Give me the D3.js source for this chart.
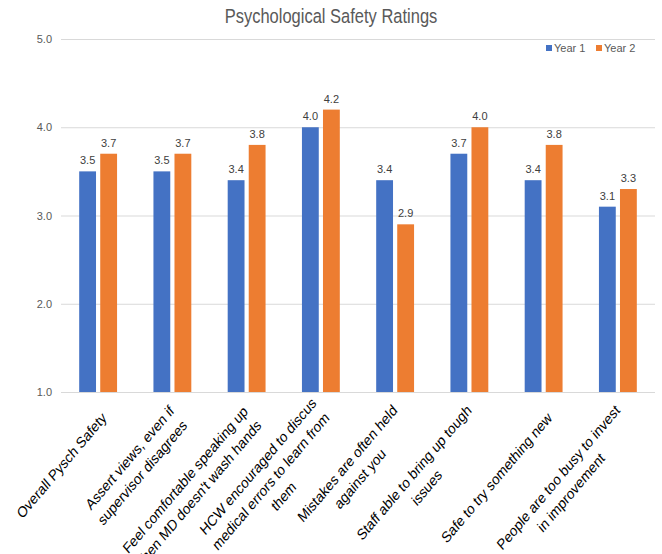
<!DOCTYPE html>
<html>
<head>
<meta charset="utf-8">
<script src="https://cdn.jsdelivr.net/npm/d3@7"></script>
<style>
  body { margin: 0; background: #fff; }
  svg { font-family: "Liberation Sans", Arial, sans-serif; }
</style>
</head>
<body>
<svg id="chart" width="662" height="554"></svg>
<script>
// chart data
var categories = [
  ["Overall Pysch Safety"],
  ["Assert views, even if", "supervisor disagrees"],
  ["Feel comfortable speaking up", "when MD doesn't wash hands"],
  ["HCW encouraged to discus", "medical errors to learn from", "them"],
  ["Mistakes are often held", "against you"],
  ["Staff able to bring up tough", "issues"],
  ["Safe to try something new"],
  ["People are too busy to invest", "in improvement"]
];
var seriesNames = ["Year 1", "Year 2"];
var year1 = [3.5, 3.5, 3.4, 4.0, 3.4, 3.7, 3.4, 3.1];
var year2 = [3.7, 3.7, 3.8, 4.2, 2.9, 4.0, 3.8, 3.3];
var yTicks = [1.0, 2.0, 3.0, 4.0, 5.0];
var colors = ["#4472C4", "#ED7D31"];

var svg = d3.select("#chart");
var plotLeft = 61, plotRight = 655, plotTop = 39, plotBottom = 392;
var stretch = 1.18; // the original picture is a bit taller than wide

var keys = categories.map(function(d, i) { return i; });
var x0 = d3.scaleBand().domain(keys).range([plotLeft, plotRight])
  .paddingInner(0.49).paddingOuter(0.245);
var x1 = d3.scaleBand().domain([0, 1]).range([0, x0.bandwidth()]).paddingInner(0.2);
var y = d3.scaleLinear().domain([1, 5]).range([plotBottom, plotTop]);

// title
svg.append("text")
  .attr("transform", "translate(331,23) scale(1," + stretch + ")")
  .attr("text-anchor", "middle")
  .style("font-size", "16.5px").style("fill", "#595959")
  .text("Psychological Safety Ratings");

// gridlines + y labels
var yAxis = d3.axisLeft(y).tickValues(yTicks).tickFormat(d3.format(".1f"))
  .tickSize(-(plotRight - plotLeft)).tickPadding(9);
var gy = svg.append("g").attr("transform", "translate(" + plotLeft + ",0)").call(yAxis);
gy.select(".domain").remove();
gy.selectAll(".tick line").attr("stroke", "#d9d9d9").attr("stroke-width", 1);
gy.selectAll(".tick text").style("font-size", "11px").style("fill", "#595959")
  .style("font-family", "Liberation Sans, Arial, sans-serif");

// bars
var rows = keys.map(function(i) { return [year1[i], year2[i]]; });
var groups = svg.append("g").selectAll("g").data(rows).enter().append("g")
  .attr("transform", function(d, i) { return "translate(" + x0(i) + ",0)"; });

groups.selectAll("rect").data(function(d) { return d; }).enter().append("rect")
  .attr("x", function(d, j) { return x1(j); })
  .attr("y", function(d) { return y(d); })
  .attr("width", x1.bandwidth())
  .attr("height", function(d) { return y(1) - y(d); })
  .attr("fill", function(d, j) { return colors[j]; });

groups.selectAll(".lbl").data(function(d) { return d; }).enter().append("text")
  .attr("class", "lbl")
  .attr("x", function(d, j) { return x1(j) + x1.bandwidth() / 2; })
  .attr("y", function(d) { return y(d) - 7; })
  .attr("text-anchor", "middle")
  .style("font-size", "11px").style("fill", "#404040")
  .text(function(d) { return d3.format(".1f")(d); });

// category labels, rotated, lines centred on each other
var lh = 18;
categories.forEach(function(lines, i) {
  var cx = x0(i) + x0.bandwidth() / 2;
  var g = svg.append("g")
    .attr("transform", "translate(" + (cx + 6) + "," + 415 + ") scale(1," + stretch + ") rotate(-45)");
  var texts = lines.map(function(t, k) {
    return g.append("text")
      .attr("y", (k - (lines.length - 1) / 2) * lh)
      .attr("text-anchor", "middle")
      .attr("dominant-baseline", "central")
      .style("font-size", "13px").style("fill", "#000")
      .text(t);
  });
  var w = d3.max(texts, function(t) { return t.node().getComputedTextLength(); });
  texts.forEach(function(t) { t.attr("x", -w / 2); });
});

// legend
var legend = svg.append("g").attr("transform", "translate(546,48)");
seriesNames.forEach(function(name, i) {
  var lg = legend.append("g").attr("transform", "translate(" + (i * 50) + ",0)");
  lg.append("rect").attr("x", 0).attr("y", -3).attr("width", 6).attr("height", 6).attr("fill", colors[i]);
  lg.append("text").attr("x", 8).attr("y", 0).attr("dominant-baseline", "central")
    .style("font-size", "11px").style("fill", "#595959").text(name);
});
</script>
</body>
</html>
